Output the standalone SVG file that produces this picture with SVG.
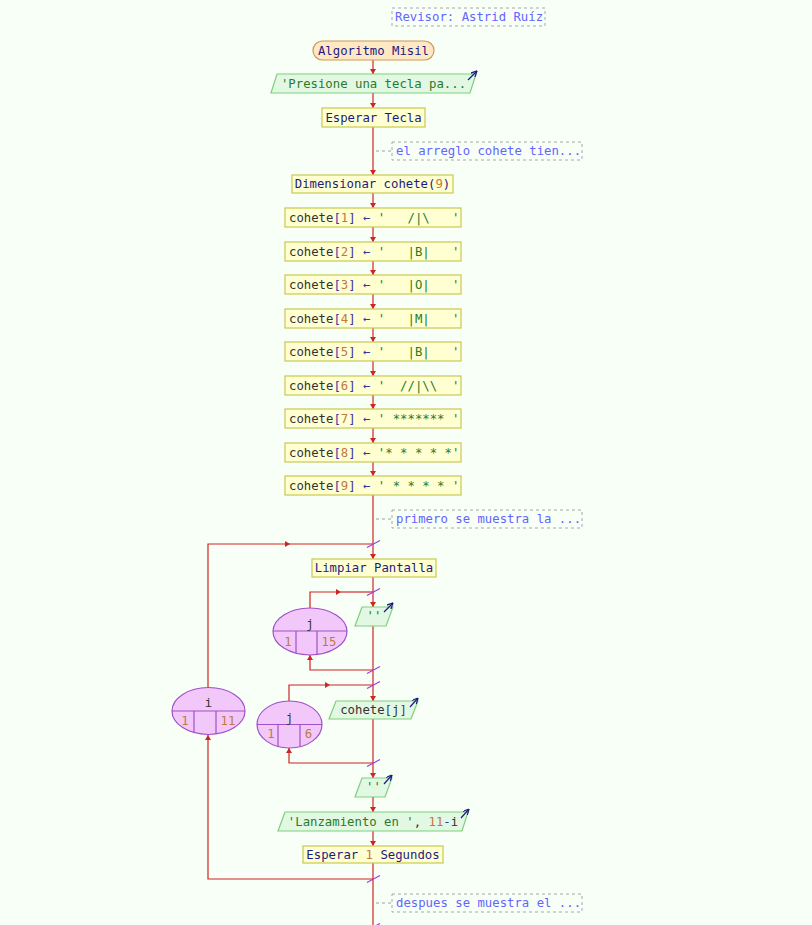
<svg xmlns="http://www.w3.org/2000/svg" width="812" height="925" viewBox="0 0 812 925">
<defs>
<style>
text{font-family:"DejaVu Sans Mono","Liberation Mono",monospace;font-size:12.3px;white-space:pre}
.kw{fill:#1c1c80}
.var{fill:#333333}
.op{fill:#3535a5}
.str{fill:#2a7a2a}
.num{fill:#c07845}
.cm{fill:#6464ff}
.proc{fill:#ffffd2;stroke:#c8c850;stroke-width:1.2}
.term{fill:#ffe8c4;stroke:#d09a50;stroke-width:1.2}
.out{fill:#e2f8e2;stroke:#7fcf7f;stroke-width:1.2}
.loop{fill:#f2c8fa;stroke:#a050c8;stroke-width:1.2}
.cbox{fill:none;stroke:#a8a8a8;stroke-width:1;stroke-dasharray:3,3}
.flow{fill:none;stroke:#d02424;stroke-width:1.2}
.dash{fill:none;stroke:#a0a0a0;stroke-width:1;stroke-dasharray:3,3}
.slash{stroke:#a040e0;stroke-width:1.2}
.oarr{stroke:#1c1c80;stroke-width:1.2;fill:none}
</style>
<marker id="ah" viewBox="0 0 5 6" refX="5" refY="3" markerWidth="5" markerHeight="6" markerUnits="userSpaceOnUse" orient="auto">
<path d="M0,0 L5,3 L0,6 z" fill="#d02424"/>
</marker>
<marker id="oa" viewBox="0 0 6 6" refX="6" refY="3" markerWidth="6" markerHeight="6" markerUnits="userSpaceOnUse" orient="auto">
<path d="M0,0 L6,3 L0,6" fill="none" stroke="#1c1c80" stroke-width="1.2"/>
</marker>
</defs>
<rect width="812" height="925" fill="#f7fff7"/>

<g id="connectors">
<path class="flow" d="M373,60 V74" marker-end="url(#ah)"/>
<path class="flow" d="M373,93 V108" marker-end="url(#ah)"/>
<path class="flow" d="M373,127 V175" marker-end="url(#ah)"/>
<path class="flow" d="M373,193 V208" marker-end="url(#ah)"/>
<path class="flow" d="M373,227 V242" marker-end="url(#ah)"/>
<path class="flow" d="M373,261 V275" marker-end="url(#ah)"/>
<path class="flow" d="M373,294 V309" marker-end="url(#ah)"/>
<path class="flow" d="M373,328 V342" marker-end="url(#ah)"/>
<path class="flow" d="M373,361 V376" marker-end="url(#ah)"/>
<path class="flow" d="M373,395 V409" marker-end="url(#ah)"/>
<path class="flow" d="M373,428 V443" marker-end="url(#ah)"/>
<path class="flow" d="M373,462 V476" marker-end="url(#ah)"/>
<path class="flow" d="M373,495 V559" marker-end="url(#ah)"/>
<path class="flow" d="M373,577 V607" marker-end="url(#ah)"/>
<path class="flow" d="M373,626 V701" marker-end="url(#ah)"/>
<path class="flow" d="M373,719 V778" marker-end="url(#ah)"/>
<path class="flow" d="M373,797 V812" marker-end="url(#ah)"/>
<path class="flow" d="M373,831 V846" marker-end="url(#ah)"/>
<path class="flow" d="M373,863 V925"/>
<!-- outer loop i -->
<path class="flow" d="M208,687 V544 H290" marker-end="url(#ah)"/>
<path class="flow" d="M290,544 H373"/>
<path class="flow" d="M373,879 H208 V735" marker-end="url(#ah)"/>
<!-- inner loop j 1 -->
<path class="flow" d="M310,608 V592 H341" marker-end="url(#ah)"/>
<path class="flow" d="M341,592 H373"/>
<path class="flow" d="M373,670 H310 V655" marker-end="url(#ah)"/>
<!-- inner loop j 2 -->
<path class="flow" d="M289,701 V685 H330" marker-end="url(#ah)"/>
<path class="flow" d="M330,685 H373"/>
<path class="flow" d="M373,763 H289 V748" marker-end="url(#ah)"/>
<!-- loop marks -->
<line class="slash" x1="367" y1="547.5" x2="380" y2="540.5"/>
<line class="slash" x1="367" y1="595.5" x2="380" y2="588.5"/>
<line class="slash" x1="367" y1="673.5" x2="380" y2="666.5"/>
<line class="slash" x1="367" y1="688.5" x2="380" y2="681.5"/>
<line class="slash" x1="367" y1="766.5" x2="380" y2="759.5"/>
<line class="slash" x1="367" y1="882.5" x2="380" y2="875.5"/>
<line class="slash" x1="367" y1="930.5" x2="380" y2="923.5"/>
<!-- comment links -->
<path class="dash" d="M376,151 H392"/>
<path class="dash" d="M376,519 H392"/>
<path class="dash" d="M376,903 H392"/>
</g>

<g id="c_revisor">
<rect class="cbox" x="392" y="8" width="153" height="18"/>
<text class="cm" x="395" y="21">Revisor: Astrid Ruíz</text>
</g>

<g id="n_start">
<rect class="term" x="313" y="41" width="121" height="19" rx="9.5"/>
<text class="kw" x="373.5" y="54.5" text-anchor="middle">Algoritmo Misil</text>
</g>

<g id="n_presione">
<polygon class="out" points="277,74 476,74 470,93 271,93"/>
<text class="str" x="373.5" y="87.5" text-anchor="middle">'Presione una tecla pa...</text>
<line class="oarr" x1="468" y1="80" x2="477" y2="71" marker-end="url(#oa)"/>
</g>

<g id="n_esperar_tecla">
<rect class="proc" x="322" y="108" width="103" height="19"/>
<text class="kw" x="373.5" y="121.5" text-anchor="middle">Esperar Tecla</text>
</g>

<g id="c_arreglo">
<rect class="cbox" x="392" y="142" width="190" height="18"/>
<text class="cm" x="396" y="155">el arreglo cohete tien...</text>
</g>

<g id="n_dim">
<rect class="proc" x="292" y="175" width="161" height="18"/>
<text x="372.5" y="188" text-anchor="middle"><tspan class="kw">Dimensionar cohete(</tspan><tspan class="num">9</tspan><tspan class="kw">)</tspan></text>
</g>

<g id="n_a1">
<rect class="proc" x="285" y="208" width="176" height="19"/>
<text x="289" y="221.5"><tspan class="var">cohete</tspan><tspan class="op">[</tspan><tspan class="num">1</tspan><tspan class="op">] ← </tspan><tspan class="str">'   /|\   '</tspan></text>
</g>
<g id="n_a2">
<rect class="proc" x="285" y="242" width="176" height="19"/>
<text x="289" y="255.5"><tspan class="var">cohete</tspan><tspan class="op">[</tspan><tspan class="num">2</tspan><tspan class="op">] ← </tspan><tspan class="str">'   |B|   '</tspan></text>
</g>
<g id="n_a3">
<rect class="proc" x="285" y="275" width="176" height="19"/>
<text x="289" y="288.5"><tspan class="var">cohete</tspan><tspan class="op">[</tspan><tspan class="num">3</tspan><tspan class="op">] ← </tspan><tspan class="str">'   |O|   '</tspan></text>
</g>
<g id="n_a4">
<rect class="proc" x="285" y="309" width="176" height="19"/>
<text x="289" y="322.5"><tspan class="var">cohete</tspan><tspan class="op">[</tspan><tspan class="num">4</tspan><tspan class="op">] ← </tspan><tspan class="str">'   |M|   '</tspan></text>
</g>
<g id="n_a5">
<rect class="proc" x="285" y="342" width="176" height="19"/>
<text x="289" y="355.5"><tspan class="var">cohete</tspan><tspan class="op">[</tspan><tspan class="num">5</tspan><tspan class="op">] ← </tspan><tspan class="str">'   |B|   '</tspan></text>
</g>
<g id="n_a6">
<rect class="proc" x="285" y="376" width="176" height="19"/>
<text x="289" y="389.5"><tspan class="var">cohete</tspan><tspan class="op">[</tspan><tspan class="num">6</tspan><tspan class="op">] ← </tspan><tspan class="str">'  //|\\  '</tspan></text>
</g>
<g id="n_a7">
<rect class="proc" x="285" y="409" width="176" height="19"/>
<text x="289" y="422.5"><tspan class="var">cohete</tspan><tspan class="op">[</tspan><tspan class="num">7</tspan><tspan class="op">] ← </tspan><tspan class="str">' ******* '</tspan></text>
</g>
<g id="n_a8">
<rect class="proc" x="285" y="443" width="176" height="19"/>
<text x="289" y="456.5"><tspan class="var">cohete</tspan><tspan class="op">[</tspan><tspan class="num">8</tspan><tspan class="op">] ← </tspan><tspan class="str">'* * * * *'</tspan></text>
</g>
<g id="n_a9">
<rect class="proc" x="285" y="476" width="176" height="19"/>
<text x="289" y="489.5"><tspan class="var">cohete</tspan><tspan class="op">[</tspan><tspan class="num">9</tspan><tspan class="op">] ← </tspan><tspan class="str">' * * * * '</tspan></text>
</g>

<g id="c_primero">
<rect class="cbox" x="392" y="510" width="190" height="18"/>
<text class="cm" x="396" y="523">primero se muestra la ...</text>
</g>

<g id="n_limpiar">
<rect class="proc" x="312" y="559" width="124" height="18"/>
<text class="kw" x="374" y="572" text-anchor="middle">Limpiar Pantalla</text>
</g>

<g id="n_loop_j1">
<ellipse class="loop" cx="310" cy="631.5" rx="37" ry="23.5"/>
<line class="loop" x1="273" y1="631" x2="347" y2="631"/>
<line class="loop" x1="296" y1="631" x2="296" y2="653.3"/>
<line class="loop" x1="317" y1="631" x2="317" y2="654.6"/>
<text class="var" x="310" y="628" text-anchor="middle">j</text>
<text class="num" x="288" y="646" text-anchor="middle">1</text>
<text class="num" x="329" y="646" text-anchor="middle">15</text>
</g>

<g id="n_out_blank1">
<polygon class="out" points="362,607 393,607 386,626 355,626"/>
<text class="str" x="374" y="620" text-anchor="middle">''</text>
<line class="oarr" x1="384" y1="612" x2="393" y2="603" marker-end="url(#oa)"/>
</g>

<g id="n_loop_i">
<ellipse class="loop" cx="208.5" cy="711" rx="36.5" ry="23.5"/>
<line class="loop" x1="172" y1="711" x2="245" y2="711"/>
<line class="loop" x1="194" y1="711" x2="194" y2="732.6"/>
<line class="loop" x1="216" y1="711" x2="216" y2="734"/>
<text class="var" x="208.5" y="707" text-anchor="middle">i</text>
<text class="num" x="185" y="725" text-anchor="middle">1</text>
<text class="num" x="228" y="725" text-anchor="middle">11</text>
</g>

<g id="n_loop_j2">
<ellipse class="loop" cx="289.5" cy="724.5" rx="32.5" ry="23.5"/>
<line class="loop" x1="257" y1="724.5" x2="322" y2="724.5"/>
<line class="loop" x1="278" y1="724.5" x2="278" y2="746.5"/>
<line class="loop" x1="300" y1="724.5" x2="300" y2="746.7"/>
<text class="var" x="289.5" y="722" text-anchor="middle">j</text>
<text class="num" x="271" y="738" text-anchor="middle">1</text>
<text class="num" x="308.5" y="738" text-anchor="middle">6</text>
</g>

<g id="n_out_cohete">
<polygon class="out" points="336,701 418,701 411,719 329,719"/>
<text x="373.5" y="714" text-anchor="middle"><tspan class="var">cohete</tspan><tspan class="op">[</tspan><tspan class="var">j</tspan><tspan class="op">]</tspan></text>
<line class="oarr" x1="410" y1="707" x2="418" y2="698" marker-end="url(#oa)"/>
</g>

<g id="n_out_blank2">
<polygon class="out" points="362,778 392,778 385,797 355,797"/>
<text class="str" x="373.5" y="791" text-anchor="middle">''</text>
<line class="oarr" x1="384" y1="784" x2="392" y2="775" marker-end="url(#oa)"/>
</g>

<g id="n_out_lanz">
<polygon class="out" points="285,812 468,812 462,831 278,831"/>
<text x="373" y="825.5" text-anchor="middle"><tspan class="str">'Lanzamiento en '</tspan><tspan class="var">, </tspan><tspan class="num">11</tspan><tspan class="op">-</tspan><tspan class="var">i</tspan></text>
<line class="oarr" x1="461" y1="818" x2="469" y2="809" marker-end="url(#oa)"/>
</g>

<g id="n_esperar_seg">
<rect class="proc" x="303" y="846" width="140" height="17"/>
<text x="373" y="858.5" text-anchor="middle"><tspan class="kw">Esperar </tspan><tspan class="num">1</tspan><tspan class="kw"> Segundos</tspan></text>
</g>

<g id="c_despues">
<rect class="cbox" x="392" y="894" width="190" height="18"/>
<text class="cm" x="396" y="907">despues se muestra el ...</text>
</g>
</svg>
